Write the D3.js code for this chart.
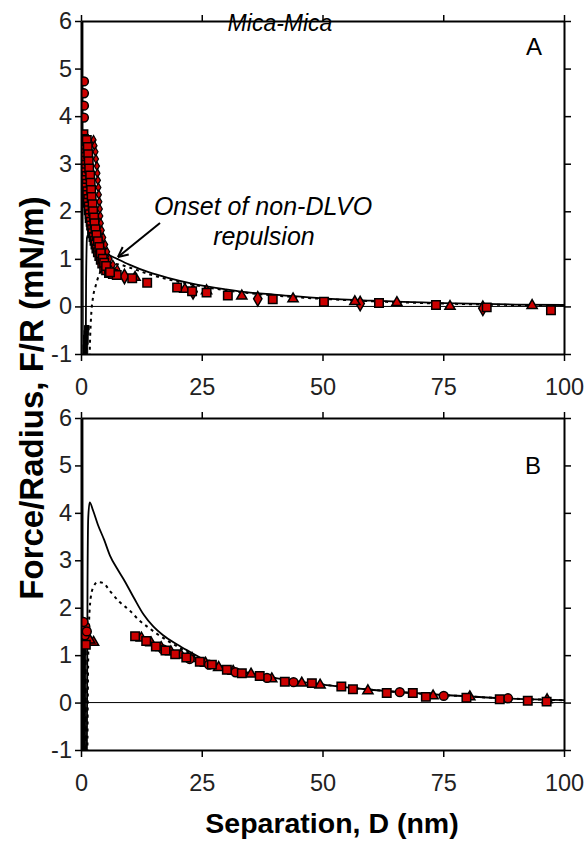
<!DOCTYPE html>
<html><head><meta charset="utf-8">
<script src="https://cdn.jsdelivr.net/npm/d3@7"></script>
<style>html,body{margin:0;padding:0;background:#fff}svg{display:block}text{font-family:"Liberation Sans",Arial,sans-serif}</style>
</head><body>
<script>
// ---------- data ----------
const xTicks = [0, 25, 50, 75, 100];
const yTicks = [-1, 0, 1, 2, 3, 4, 5, 6];
const xTickLabels = ["0", "25", "50", "75", "100"];
const yTickLabels = ["-1", "0", "1", "2", "3", "4", "5", "6"];

// Panel A (mica-mica, top)
const aCircles = [[0.6,4.73],[0.6,4.48],[0.6,4.22],[0.6,3.97]];
const aSquares = [[0.5,3.62],[0.6,3.52],[0.5,3.45],[0.7,3.38],[0.6,3.3],[0.8,3.22],[0.7,3.14],[0.9,3.06],[0.8,2.98],[1.0,2.9],[0.9,2.82],[1.1,2.74],[1.0,2.66],[1.2,2.58],[1.1,2.5],[1.3,2.42],[1.3,2.34],[1.5,2.26],[1.4,2.18],[1.6,2.1],[1.6,2.02],[1.8,1.94],[1.8,1.86],[2.0,1.78],[2.1,1.7],[2.3,1.62],[2.4,1.54],[2.6,1.46],[2.8,1.38],[3.0,1.3],[3.2,1.22],[3.5,1.14],[3.8,1.06],[4.1,0.98],[4.4,0.9],[4.8,0.82],[5.2,0.76],[5.8,0.7],[6.6,0.68],[7.4,0.66],
  [1.2,3.5],[1.4,3.35],[1.5,3.2],[1.6,3.05],[1.7,2.9],[1.9,2.75],[2.0,2.6],[2.1,2.45],[2.2,2.3],[2.4,2.15],[2.5,2.0],[2.7,1.87],[2.8,1.75],[3.0,1.62],[3.2,1.5],[3.5,1.37],[3.8,1.25],[4.1,1.12],[4.5,1.0],[4.8,0.92],[5.2,0.85],[6.0,0.72],
  [10.6,0.59],[13.7,0.5],[19.9,0.4],[23,0.32],[26,0.29],[30.4,0.23],[39.7,0.15],[50.3,0.1],[61.7,0.07],[73.5,0.03],[84,-0.02],[97.3,-0.08]];
const aSmall = [[2.6,3.5],[2.8,3.38],[3.0,3.25],[3.1,3.1],[3.3,2.95],[3.4,2.8],[3.5,2.65],[3.6,2.5],[3.7,2.35],[3.8,2.2],[3.9,2.05],[4.0,1.9],[4.1,1.75],[4.3,1.6],[4.6,1.45],[5.0,1.3],[5.4,1.15],[5.9,1.0],[6.6,0.88],[7.5,0.78]];
const aTriangles = [[11.2,0.61],[21.5,0.36],[26,0.33],[33.3,0.22],[43.9,0.16],[56.7,0.1],[65.4,0.08],[76.4,0.0],[93.4,0.02]];
const aDiamonds = [[9,0.63],[23.2,0.31],[36.6,0.16],[57.8,0.06],[83.2,-0.04]];
const aJump = [[1.2,-0.45],[1.1,-0.55],[1.0,-0.65],[1.0,-0.75],[0.9,-0.85],[0.9,-0.95]];
const aSolid = [[0.3,8],[0.4,-1.5],[0.95,-1.5],[1.05,0.5],[1.25,1.45],[1.6,1.52],[2.5,1.42],[4,1.24],[5.5,1.1],[7.5,1.0],[10,0.88],[14,0.72],[18,0.6],[23,0.48],[30,0.36],[35,0.29],[40,0.25],[50,0.17],[60,0.12],[75,0.07],[90,0.04],[100,0.03]];
const aDashed = [[1.7,-1.5],[1.85,-0.8],[2.1,-0.2],[2.5,0.2],[3.0,0.42],[3.8,0.68],[5,0.85],[6.5,0.9],[8,0.88],[10,0.82],[14,0.68],[18,0.57],[23,0.46],[30,0.34],[40,0.23],[50,0.16],[60,0.11],[75,0.06],[90,0.03],[100,0.02]];

// Panel B (bottom)
const bCircles = [[0.3,1.62],[0.6,1.55],[0.9,1.6],[0.4,1.45],[0.8,1.42],[1.2,1.5],[0.5,1.7],
  [17,1.12],[22.5,0.92],[26.5,0.8],[32,0.64],[38.5,0.52],[44,0.43],[66,0.22],[75.1,0.14],[88.4,0.09]];
const bSquares = [[1.0,1.22],[11.2,1.4],[13.5,1.3],[15.5,1.18],[17.5,1.1],[19.5,1.02],[21.8,0.95],[24.6,0.86],[27.1,0.8],[30.2,0.69],[33.3,0.62],[37,0.56],[42.2,0.44],[47.8,0.41],[53.9,0.34],[56.3,0.28],[63.3,0.2],[68.7,0.2],[71.4,0.12],[79.8,0.1],[86.7,0.07],[92.5,0.04],[96.4,0.02]];
const bTriangles = [[0.2,1.28],[0.6,1.25],[1.4,1.3],[2.6,1.27],[1.8,1.32],
  [12.5,1.36],[14.5,1.26],[16.6,1.16],[18.6,1.07],[20.7,1.0],[23,0.93],[25.8,0.83],[28.5,0.74],[31.5,0.66],[35.2,0.6],[39.5,0.5],[45.7,0.41],[49.5,0.37],[59.4,0.25],[72.9,0.14],[80.5,0.12],[96.5,0.06]];
const bJump = [[0.6,-0.95],[0.5,-0.85],[0.6,-0.75],[0.5,-0.65],[0.6,-0.55],[0.5,-0.45],[0.6,-0.35],[0.5,-0.25],[0.6,-0.15],[0.5,-0.05],[0.6,0.05],[0.5,0.15],[0.6,0.25],[0.5,0.35],[0.6,0.45],[0.5,0.55],[0.6,0.65],[0.5,0.75],[0.6,0.85],[0.5,0.95],[0.6,1.05],[0.5,1.15]];
const bSolid = [[0.3,8],[0.4,-1.5],[1.2,-1.5],[1.35,2.5],[1.5,3.9],[1.8,4.22],[2.5,4.05],[3.5,3.75],[4.8,3.43],[6,3.1],[7.5,2.82],[9,2.57],[11,2.2],[13,1.85],[15,1.6],[17,1.42],[20,1.22],[22,1.1],[25,0.93],[30,0.74],[35,0.62],[40,0.52],[50,0.38],[60,0.27],[75,0.16],[90,0.08],[100,0.05]];
const bDashed = [[1.3,-1.5],[1.4,0],[1.6,1.5],[2.0,2.2],[2.5,2.42],[3.5,2.54],[4.6,2.52],[6,2.35],[8,2.12],[10,1.95],[12,1.74],[14,1.58],[16,1.43],[18,1.3],[20,1.18],[25,0.92],[30,0.74],[40,0.52],[50,0.38],[60,0.27],[75,0.16],[90,0.08],[100,0.05]];

// ---------- drawing ----------
const W = 587, H = 843;
const RED = "#cc0000";
const FONT = '"Liberation Sans",Arial,sans-serif';
const svg = d3.select("body").append("svg").attr("width", W).attr("height", H);
svg.append("rect").attr("width", W).attr("height", H).attr("fill", "#fff");

const x = d3.scaleLinear().domain([0, 100]).range([81, 564]);
const xMinor = d3.range(0, 100.01, 5);
const yMinor = d3.range(-1, 6.001, 0.2).map(v => +v.toFixed(2));

function panel(id, yTop, yBot, d) {
  const y = d3.scaleLinear().domain([-1, 6]).range([yBot, yTop]);
  const g = svg.append("g");
  const clipId = "clip" + id;
  svg.append("clipPath").attr("id", clipId).append("rect")
    .attr("x", x(0)).attr("y", yTop).attr("width", x(100) - x(0)).attr("height", yBot - yTop);

  g.append("line").attr("x1", x(0)).attr("x2", x(100)).attr("y1", y(0)).attr("y2", y(0))
    .attr("stroke", "#000").attr("stroke-width", 1);

  const line = d3.line().x(p => x(p[0])).y(p => y(p[1])).curve(d3.curveMonotoneX);
  const cg = g.append("g").attr("clip-path", `url(#${clipId})`);
  cg.append("path").attr("d", line(d.solid)).attr("fill", "none").attr("stroke", "#000").attr("stroke-width", 1.8);
  cg.append("path").attr("d", line(d.dashed)).attr("fill", "none").attr("stroke", "#000").attr("stroke-width", 2).attr("stroke-dasharray", "3,4");

  const mg = g.append("g").attr("clip-path", `url(#${clipId})`);
  function marks(data, type, size, fill, sw) {
    mg.selectAll(null).data(data).enter().append("path")
      .attr("transform", p => `translate(${x(p[0])},${y(p[1])})`)
      .attr("d", d3.symbol().type(type).size(size)())
      .attr("fill", fill).attr("stroke", "#000").attr("stroke-width", sw);
  }
  marks(d.jump, d3.symbolSquare, 22, "#000", 1);
  if (d.small) marks(d.small, d3.symbolDiamond, 22, RED, 1.2);
  marks(d.diamonds || [], d3.symbolDiamond, 60, RED, 1.5);
  marks(d.triangles, d3.symbolTriangle, 45, RED, 1.5);
  marks(d.circles, d3.symbolCircle, 62, RED, 1.5);
  marks(d.squares, d3.symbolSquare, 72, RED, 1.5);

  const ax = svg.append("g");
  const left = ax.append("g").attr("transform", `translate(${x(0)},0)`);
  left.call(d3.axisLeft(y).tickValues(yMinor).tickSize(3).tickFormat("").tickSizeOuter(0));
  left.call(d3.axisLeft(y).tickValues(yTicks).tickSize(6).tickPadding(3).tickFormat((v, i) => yTickLabels[i]).tickSizeOuter(0));
  const right = ax.append("g").attr("transform", `translate(${x(100)},0)`);
  right.call(d3.axisRight(y).tickValues(yMinor).tickSize(3).tickFormat("").tickSizeOuter(0));
  right.call(d3.axisRight(y).tickValues(yTicks).tickSize(7).tickFormat("").tickSizeOuter(0));
  const bottom = ax.append("g").attr("transform", `translate(0,${yBot})`);
  bottom.call(d3.axisBottom(x).tickValues(xMinor).tickSize(3).tickFormat("").tickSizeOuter(0));
  bottom.call(d3.axisBottom(x).tickValues(xTicks).tickSize(7).tickPadding(17).tickFormat((v, i) => xTickLabels[i]).tickSizeOuter(0));
  const top = ax.append("g").attr("transform", `translate(0,${yTop})`);
  top.call(d3.axisTop(x).tickValues(xMinor).tickSize(2).tickFormat("").tickSizeOuter(0));
  top.call(d3.axisTop(x).tickValues(xTicks).tickSize(6).tickFormat("").tickSizeOuter(0));
  ax.selectAll("g").attr("font-size", null).attr("font-family", null);
  ax.selectAll(".domain").attr("stroke-width", 2).attr("stroke", "#000");
  ax.selectAll(".tick line").attr("stroke-width", 1.5).attr("stroke", "#000");
  ax.selectAll(".tick text").attr("fill", "#222").style("font-family", FONT).style("font-size", "23.5px");
  return y;
}

const yA = panel("A", 21, 354, {circles: aCircles, squares: aSquares, small: aSmall, triangles: aTriangles, diamonds: aDiamonds, jump: aJump, solid: aSolid, dashed: aDashed});
const yB = panel("B", 418, 750, {circles: bCircles, squares: bSquares, triangles: bTriangles, jump: bJump, solid: bSolid, dashed: bDashed});

svg.append("text").attr("x", 280).attr("y", 31).attr("text-anchor", "middle").attr("font-size", 23).attr("font-style", "italic").text("Mica-Mica");
svg.append("text").attr("x", 534).attr("y", 55).attr("text-anchor", "middle").attr("font-size", 24).text("A");
svg.append("text").attr("x", 533).attr("y", 474).attr("text-anchor", "middle").attr("font-size", 24).text("B");
svg.append("text").attr("x", 263).attr("y", 215).attr("text-anchor", "middle").attr("font-size", 25).attr("font-style", "italic").text("Onset of non-DLVO");
svg.append("text").attr("x", 264).attr("y", 245).attr("text-anchor", "middle").attr("font-size", 25).attr("font-style", "italic").text("repulsion");

const ax1 = 160, ay1 = 223, ax2 = 118, ay2 = 257;
svg.append("line").attr("x1", ax1).attr("y1", ay1).attr("x2", ax2).attr("y2", ay2).attr("stroke", "#000").attr("stroke-width", 2);
const ang = Math.atan2(ay1 - ay2, ax1 - ax2);
[0.45, -0.45].forEach(da => {
  svg.append("line").attr("x1", ax2).attr("y1", ay2)
    .attr("x2", ax2 + 11 * Math.cos(ang + da)).attr("y2", ay2 + 11 * Math.sin(ang + da))
    .attr("stroke", "#000").attr("stroke-width", 2);
});

svg.append("text").attr("x", 332).attr("y", 833).attr("text-anchor", "middle").attr("font-size", 28.5).attr("font-weight", "bold").text("Separation, D (nm)");
svg.append("text").attr("transform", "translate(43,398) rotate(-90)").attr("text-anchor", "middle").attr("font-size", 33).attr("font-weight", "bold").text("Force/Radius, F/R (mN/m)");
</script>
</body></html>
